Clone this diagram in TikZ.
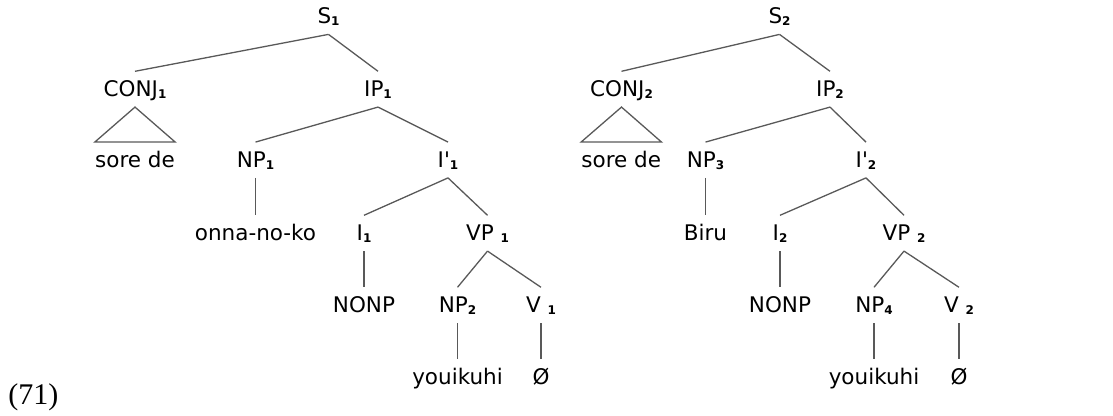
\documentclass[tikz,border=0pt]{standalone}
\usepackage{fontspec}
\setmainfont{DejaVu Sans}
\newfontfamily\exfont{Liberation Serif}
\usepackage{tikz}

% small bold index after a category
\newcommand\idx[1]{\raisebox{-1pt}{\fontsize{6}{7}\selectfont\bfseries #1}}

\tikzset{
  % Category and word labels, anchored on their baseline
  cat/.style={
    anchor=base, font=\fontsize{10.75}{12}\selectfont,
    text height=8pt, text depth=0.5pt, inner xsep=1pt, inner ysep=4.5pt,
  },
  word/.style={cat},
  % Tree branches
  branch/.style={draw=black!65, line width=0.65pt},
}

\begin{document}
\begin{tikzpicture}[x=0.5pt, y=-0.5pt]
  \useasboundingbox (0,0) rectangle (1113,416);

  % Example number
  \node[anchor=base west, font=\exfont\fontsize{15}{18}\selectfont, inner sep=0pt]
    (exnum) at (8,405) {(71)};

  % First tree
  \node[cat] (s1) at (328.5,24) {S\idx{1}};
  \node[cat] (conj1) at (135,96.7) {CONJ\idx{1}};
  \node[cat] (ip1) at (378,96.7) {IP\idx{1}};
  \node[word, inner xsep=0pt] (sorede1) at (135,167.5) {sore de};
  \node[cat] (np1) at (255.5,167.5) {NP\idx{1}};
  \node[cat] (ibar1) at (448,167.5) {I\textquotesingle\idx{1}};
  \node[word] (onna) at (255.5,240.7) {onna-no-ko};
  \node[cat] (i1) at (364,240.7) {I\idx{1}};
  \node[cat] (vp1) at (487.5,240.7) {VP \idx{1}};
  \node[word] (nonp1) at (364,312.7) {NONP};
  \node[cat] (np2) at (457.5,312.7) {NP\idx{2}};
  \node[cat] (v1) at (541,312.7) {V \idx{1}};
  \node[word] (youi1) at (457.5,384.3) {youikuhi};
  \node[word] (null1) at (541,384.3) {Ø};

  \draw[branch] (s1.south) -- (conj1.north);
  \draw[branch] (s1.south) -- (ip1.north);
  \draw[branch] (conj1.south) -- (sorede1.north west) -- (sorede1.north east) -- cycle;
  \draw[branch] (ip1.south) -- (np1.north);
  \draw[branch] (ip1.south) -- (ibar1.north);
  \draw[branch] (np1.south) -- (onna.north);
  \draw[branch] (ibar1.south) -- (i1.north);
  \draw[branch] (ibar1.south) -- (vp1.north);
  \draw[branch] (i1.south) -- (nonp1.north);
  \draw[branch] (vp1.south) -- (np2.north);
  \draw[branch] (vp1.south) -- (v1.north);
  \draw[branch] (np2.south) -- (youi1.north);
  \draw[branch] (v1.south) -- (null1.north);

  % Second tree
  \node[cat] (s2) at (779.5,24) {S\idx{2}};
  \node[cat] (conj2) at (621.5,96.7) {CONJ\idx{2}};
  \node[cat] (ip2) at (830,96.7) {IP\idx{2}};
  \node[word, inner xsep=0pt] (sorede2) at (621.3,167.5) {sore de};
  \node[cat] (np3) at (705.5,167.5) {NP\idx{3}};
  \node[cat] (ibar2) at (866,167.5) {I\textquotesingle\idx{2}};
  \node[word] (biru) at (705.5,240.7) {Biru};
  \node[cat] (i2) at (780,240.7) {I\idx{2}};
  \node[cat] (vp2) at (904,240.7) {VP \idx{2}};
  \node[word] (nonp2) at (780,312.7) {NONP};
  \node[cat] (np4) at (874,312.7) {NP\idx{4}};
  \node[cat] (v2) at (959,312.7) {V \idx{2}};
  \node[word] (youi2) at (874,384.3) {youikuhi};
  \node[word] (null2) at (959,384.3) {Ø};

  \draw[branch] (s2.south) -- (conj2.north);
  \draw[branch] (s2.south) -- (ip2.north);
  \draw[branch] (conj2.south) -- (sorede2.north west) -- (sorede2.north east) -- cycle;
  \draw[branch] (ip2.south) -- (np3.north);
  \draw[branch] (ip2.south) -- (ibar2.north);
  \draw[branch] (np3.south) -- (biru.north);
  \draw[branch] (ibar2.south) -- (i2.north);
  \draw[branch] (ibar2.south) -- (vp2.north);
  \draw[branch] (i2.south) -- (nonp2.north);
  \draw[branch] (vp2.south) -- (np4.north);
  \draw[branch] (vp2.south) -- (v2.north);
  \draw[branch] (np4.south) -- (youi2.north);
  \draw[branch] (v2.south) -- (null2.north);
\end{tikzpicture}
\end{document}
